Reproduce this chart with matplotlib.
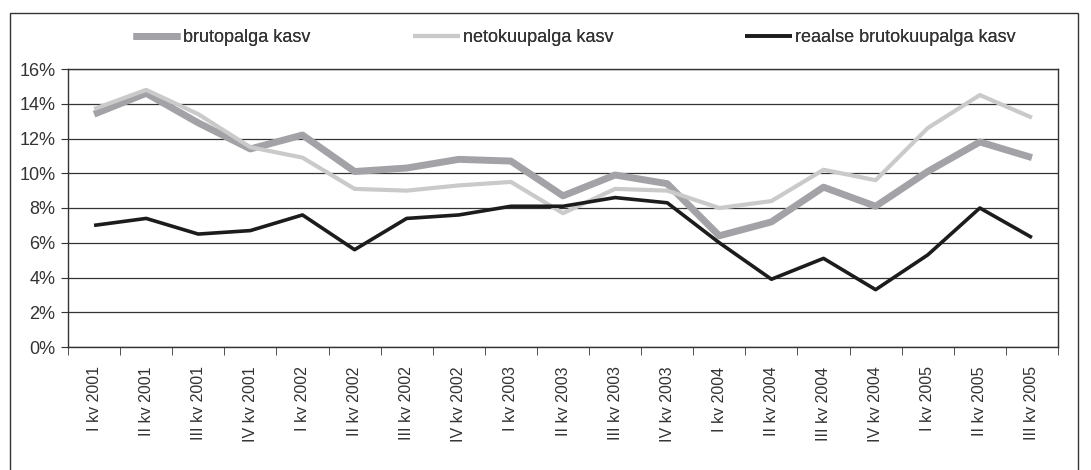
import numpy as np
import matplotlib.pyplot as plt
from matplotlib.patches import Rectangle
from matplotlib.ticker import FuncFormatter

plt.rcParams['font.family'] = ['Liberation Sans', 'DejaVu Sans']

quarters = ['I kv 2001', 'II kv 2001', 'III kv 2001', 'IV kv 2001',
            'I kv 2002', 'II kv 2002', 'III kv 2002', 'IV kv 2002',
            'I kv 2003', 'II kv 2003', 'III kv 2003', 'IV kv 2003',
            'I kv 2004', 'II kv 2004', 'III kv 2004', 'IV kv 2004',
            'I kv 2005', 'II kv 2005', 'III kv 2005']
bruto = [13.4, 14.6, 12.9, 11.4, 12.2, 10.1, 10.3, 10.8, 10.7, 8.7,
         9.9, 9.4, 6.4, 7.2, 9.2, 8.1, 10.1, 11.8, 10.9]
neto = [13.7, 14.8, 13.4, 11.5, 10.9, 9.1, 9.0, 9.3, 9.5, 7.7,
        9.1, 9.0, 8.0, 8.4, 10.2, 9.6, 12.6, 14.5, 13.2]
reaal = [7.0, 7.4, 6.5, 6.7, 7.6, 5.6, 7.4, 7.6, 8.1, 8.1,
         8.6, 8.3, 6.0, 3.9, 5.1, 3.3, 5.3, 8.0, 6.3]
names = ['brutopalga kasv', 'netokuupalga kasv', 'reaalse brutokuupalga kasv']


def main():
    fig = plt.figure(figsize=(10.91, 4.70), dpi=100)
    ax = fig.add_axes([68 / 1091, 1 - 347 / 470, (1058 - 68) / 1091, (347 - 69) / 470])

    # outer frame around the whole chart
    fig.patches.append(Rectangle((10 / 1091, -0.01), 1068 / 1091, 1 - 13 / 470 + 0.01,
                                 transform=fig.transFigure, fill=False,
                                 edgecolor='#333333', linewidth=1.0))

    x = np.arange(len(quarters))
    l1, = ax.plot(x, bruto, color='#a3a3a7', lw=5, solid_capstyle='butt', zorder=3)
    l2, = ax.plot(x, neto, color='#cacaca', lw=3, solid_capstyle='butt', zorder=3)
    l3, = ax.plot(x, reaal, color='#1c1c1c', lw=2.6, solid_capstyle='butt', zorder=4)

    ax.set_xlim(-0.5, len(quarters) - 0.5)
    ax.set_ylim(0, 16)
    ax.set_yticks(np.arange(0, 17, 2))
    ax.yaxis.set_major_formatter(FuncFormatter(lambda v, p: '%d%%' % v))
    ax.grid(axis='y', color='#333333', lw=0.9)
    ax.set_axisbelow(True)

    ax.set_xticks(x)
    ax.set_xticklabels(quarters, rotation=90, fontsize=11.5, color='#333333')
    ax.tick_params(axis='x', which='major', length=0, pad=14)
    ax.set_xticks(np.arange(-0.5, len(quarters), 1), minor=True)
    ax.tick_params(axis='x', which='minor', length=6, color='#333333', direction='out')
    ax.tick_params(axis='y', length=5, color='#333333', labelsize=13,
                   labelcolor='#333333', pad=4)
    for s in ax.spines.values():
        s.set_color('#333333')
        s.set_linewidth(1.0)

    # legend entries placed separately, as in the original layout
    for line, name, left in zip([l1, l2, l3], names, [126, 406, 738]):
        leg = fig.legend([line], [name], loc='center left', frameon=False,
                         bbox_to_anchor=(left / 1091, 1 - 38 / 470), fontsize=13,
                         handlelength=2.6, handletextpad=0.15, borderaxespad=0,
                         labelcolor='#333333')
        fig.add_artist(leg)

    fig.savefig('out.png', dpi=100)


if __name__ == '__main__':
    main()
